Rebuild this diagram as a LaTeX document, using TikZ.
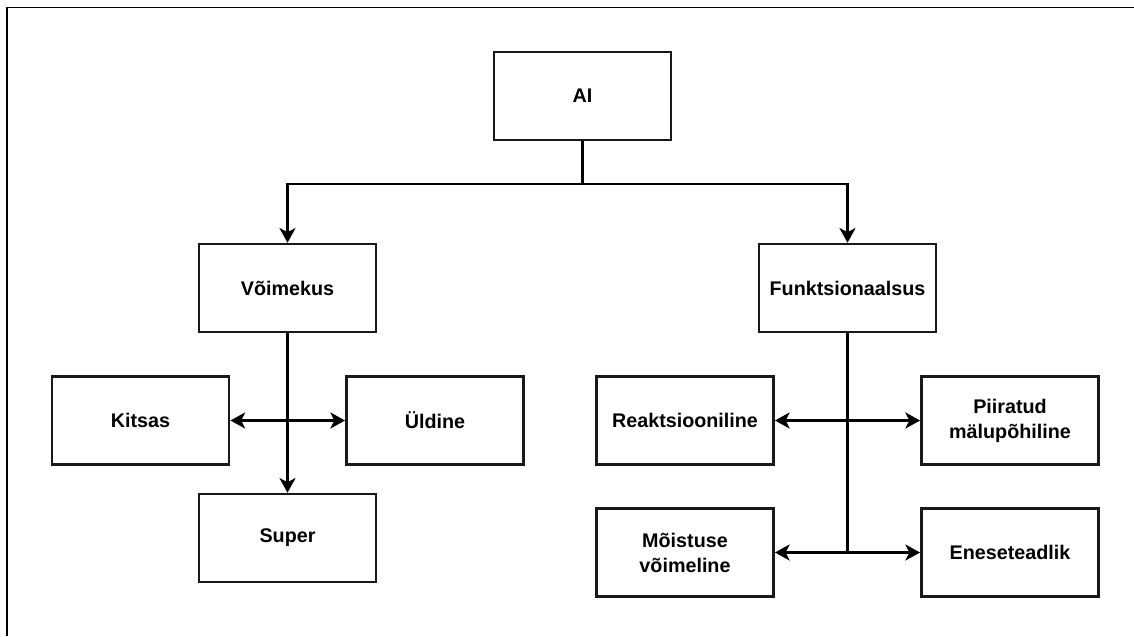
\documentclass[tikz,border=0pt]{standalone}
\usepackage{fontspec}
\setmainfont{Liberation Sans}
\usetikzlibrary{arrows.meta}
\begin{document}
\begin{tikzpicture}[x=0.75pt,y=-0.75pt,
  box/.style={draw=black!90, line width=1.9pt, minimum width=133pt, minimum height=66pt,
    inner sep=0pt, align=center, font=\fontsize{14.8pt}{18.75pt}\selectfont\bfseries},
  conn/.style={line width=1.8pt, draw=black},
  tip/.style={-{Stealth[length=11pt,width=12pt,inset=3pt]}},
  dtip/.style={{Stealth[length=11pt,width=12pt,inset=3pt]}-{Stealth[length=11pt,width=12pt,inset=3pt]}}]
\useasboundingbox (0,0) rectangle (1134,636);
\coordinate (fa) at (7,636);
\coordinate (fb) at (7,7.5);
\coordinate (fc) at (1134,7.5);
\draw[line width=1.2pt] (fa) -- (fb) -- (fc);

\node[box] (ai) at (582.5,96) {AI};
\node[box] (voim) at (287.5,288) {Võimekus};
\node[box] (funk) at (847.5,288) {Funktsionaalsus};
\node[box] (kits) at (140.5,420.5) {Kitsas};
\node[box] (uld) at (435,420.5) {Üldine};
\node[box] (sup) at (287.5,538) {Super};
\node[box] (reak) at (685,420.5) {Reaktsiooniline};
\node[box] (piir) at (1010,420.5) {Piiratud\\mälupõhiline};
\node[box] (mois) at (685,552.5) {Mõistuse\\võimeline};
\node[box] (enes) at (1010,552.5) {Eneseteadlik};

\coordinate (bus) at (582.5,184);
\coordinate (fend) at (847.5,553);
\draw[conn] (ai.south) -- (bus);
\draw[conn,tip] (bus) -| (voim.north);
\draw[conn,tip] (bus) -| (funk.north);
\draw[conn,tip] (voim.south) -- (sup.north);
\draw[conn,dtip] (kits.east) -- (uld.west);
\draw[conn] (funk.south) -- (fend);
\draw[conn,dtip] (reak.east) -- (piir.west);
\draw[conn,dtip] (mois.east) -- (enes.west);
\end{tikzpicture}
\end{document}
